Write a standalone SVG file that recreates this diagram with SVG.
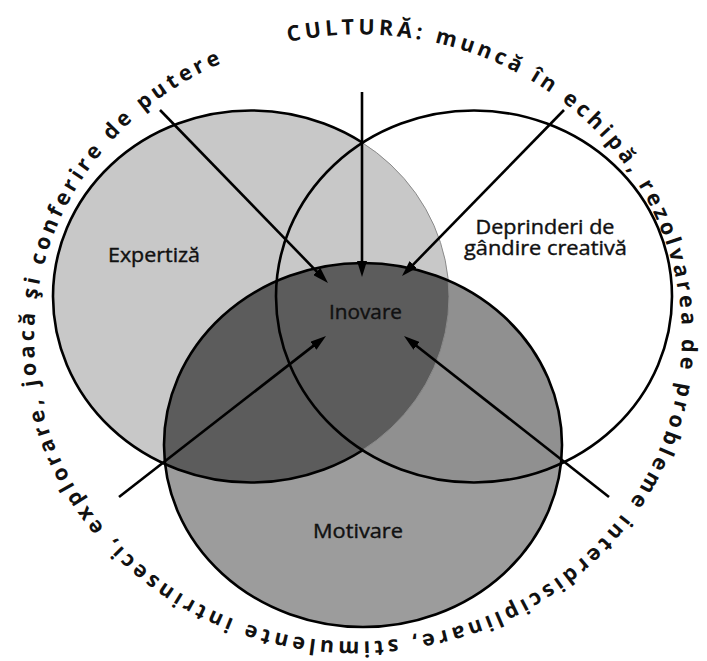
<svg xmlns="http://www.w3.org/2000/svg" width="707" height="661" viewBox="0 0 707 661">
<style>
.lbl{font-family:"Open Sans","Liberation Sans",sans-serif;font-size:20px;fill:#111;stroke:#111;stroke-width:0.4;}
.ring{font-family:"Open Sans","Liberation Sans",sans-serif;font-size:21.5px;font-weight:bold;fill:#111;letter-spacing:4px;}
.edge{fill:none;stroke:#000;stroke-width:2.6;}
.arrow{fill:none;stroke:#000;stroke-width:2.6;marker-end:url(#ah);}
</style>
<defs>
<clipPath id="clipL"><ellipse cx="251" cy="296.5" rx="198" ry="186"/></clipPath>
<clipPath id="clipR"><ellipse cx="474" cy="296.5" rx="198" ry="186"/></clipPath>
<clipPath id="clipHalf"><rect x="0" y="0" width="363" height="661"/></clipPath>
<clipPath id="clipHalfR"><rect x="363" y="0" width="344" height="661"/></clipPath>
<marker id="ah" viewBox="0 0 16 10" refX="8" refY="5" markerWidth="16" markerHeight="10" markerUnits="userSpaceOnUse" orient="auto"><path d="M0,0 L16,5 L0,10 z" fill="#000"/></marker>
<path id="ringPath" d="M288.5,42.2 A321,303 0 1 1 427.5,633.8 A321,303 0 1 1 288.5,42.2"/>
</defs>
<rect width="707" height="661" fill="#fff"/>
<g id="fills">
<ellipse cx="251" cy="296.5" rx="198" ry="186" fill="#c8c8c8"/>
<ellipse cx="363" cy="445" rx="199" ry="182" fill="#9c9c9c"/>
<ellipse cx="363" cy="445" rx="199" ry="182" fill="#909090" clip-path="url(#clipR)"/>
<ellipse cx="363" cy="445" rx="199" ry="182" fill="#5c5c5c" clip-path="url(#clipL)"/>
<ellipse cx="251" cy="296.5" rx="198" ry="186" fill="none" stroke="#8a8a8a" stroke-width="1" clip-path="url(#clipHalfR)"/>
</g>
<g id="node-expertiza">
<ellipse class="edge" cx="251" cy="296.5" rx="198" ry="186" clip-path="url(#clipHalf)"/>
<text class="lbl" x="108" y="262" textLength="92" lengthAdjust="spacingAndGlyphs">Expertiză</text>
</g>
<g id="node-deprinderi">
<ellipse class="edge" cx="474" cy="296.5" rx="198" ry="186"/>
<text class="lbl" x="545" y="234" text-anchor="middle" textLength="139" lengthAdjust="spacingAndGlyphs">Deprinderi de</text>
<text class="lbl" x="545.5" y="255" text-anchor="middle" textLength="163" lengthAdjust="spacingAndGlyphs">gândire creativă</text>
</g>
<g id="node-motivare">
<ellipse class="edge" cx="363" cy="445" rx="199" ry="182"/>
<text class="lbl" x="313" y="538" textLength="90" lengthAdjust="spacingAndGlyphs">Motivare</text>
</g>
<g id="node-inovare">
<text class="lbl" x="329" y="319" textLength="73" lengthAdjust="spacingAndGlyphs">Inovare</text>
</g>
<g id="connectors">
<line class="arrow" x1="362" y1="92" x2="362" y2="269"/>
<line class="arrow" x1="160" y1="110" x2="322.4" y2="277.3"/>
<line class="arrow" x1="564" y1="110" x2="407.6" y2="270.3"/>
<line class="arrow" x1="119" y1="497" x2="319.7" y2="340.9"/>
<line class="arrow" x1="609" y1="497" x2="410.3" y2="340.9"/>
</g>
<g id="culture-ring">
<text class="ring"><textPath href="#ringPath" textLength="1905" lengthAdjust="spacing">CULTURĂ: muncă în echipă, rezolvarea de probleme interdisciplinare, stimulente intrinseci, explorare, joacă şi conferire de putere</textPath></text>
</g>
</svg>
